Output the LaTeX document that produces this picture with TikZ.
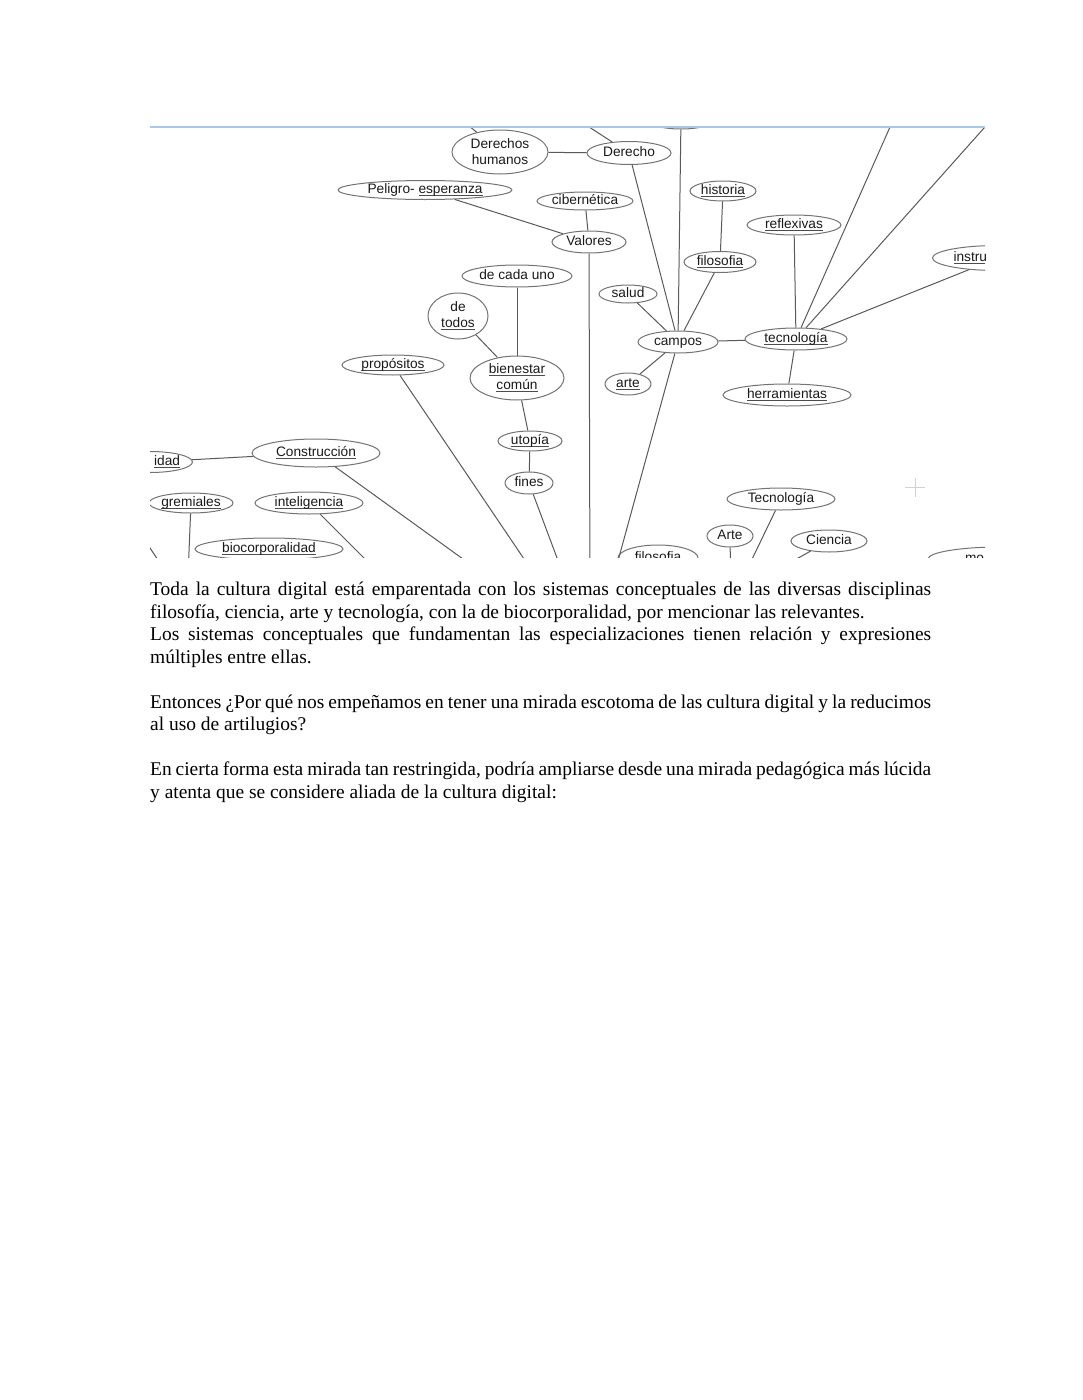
\documentclass[tikz,border=0pt]{standalone}
\usepackage{fontspec}
\setmainfont{Liberation Serif}
\newfontfamily\sansarial{Liberation Sans}
\usetikzlibrary{shapes.geometric}

\definecolor{bordecaptura}{RGB}{172,200,232}
\newcommand{\subrayar}[1]{\setbox0\hbox{#1}\rlap{\color{black!70}\rule[-2.6pt]{\wd0}{0.8pt}}\box0}
\newcommand{\etiqueta}{\sansarial\fontsize{13.7}{16}\selectfont}
\newcommand{\cuerpo}{\fontsize{19.45}{22.5}\selectfont}
\newcommand{\ancho}{781pt}

\tikzset{
	concepto/.style={ellipse, draw=black!55, line width=1pt, inner sep=0pt, font=\etiqueta, text=black!90, align=center, text height=9.8pt, text depth=2.9pt},
	doslineas/.style={text height=, text depth=},
	tam/.style 2 args={minimum width=#1, minimum height=#2},
	enlace/.style={draw=black!65, line width=1pt},
	renglon/.style={anchor=base west, inner sep=0pt, font=\cuerpo},
}

\begin{document}
\begin{tikzpicture}[x=1pt, y=-1pt]
	
	% Hoja completa
	\useasboundingbox (0,0) rectangle (1082,1400);
	
	\begin{scope}
		\clip (150,127) rectangle (985,557);
		
		% Conceptos de la parte alta
		\node[concepto, tam={76}{24}] (arriba1) at (681,117) {};
		\node[concepto, tam={62}{22}] (arriba2) at (766,116) {};
		\node[concepto, doslineas, tam={96}{44}] (dh) at (500,152) {Derechos\\humanos};
		\node[concepto, tam={84}{23}] (derecho) at (629,153) {Derecho};
		\node[concepto, tam={174}{19}] (peligro) at (425,190) {Peligro- \subrayar{esperanza}};
		\node[concepto, tam={96}{18}] (ciber) at (585,201) {cibernética};
		\node[concepto, tam={74}{22}] (valores) at (589,242) {Valores};
		\node[concepto, tam={66}{20}] (historia) at (723,191) {\subrayar{historia}};
		\node[concepto, tam={94}{20}] (reflexivas) at (794,225) {\subrayar{reflexivas}};
		\node[concepto, tam={72}{21}] (filosofia) at (720,262) {\subrayar{filosofia}};
		\node[concepto, tam={131}{25}, text width=89, align=left] (instru) at (998,258) {\subrayar{instru}};
		
		% Conceptos del centro
		\node[concepto, tam={110}{22}] (cadauno) at (517,276) {de cada uno};
		\node[concepto, doslineas, tam={60}{46}] (todos) at (458,316) {de\\\subrayar{todos}};
		\node[concepto, tam={58}{18}] (salud) at (628,294) {salud};
		\node[concepto, tam={80}{22}] (campos) at (678,342) {campos};
		\node[concepto, tam={102}{22}] (tecno) at (796,339) {\subrayar{tecnología}};
		\node[concepto, tam={102}{20}] (propositos) at (393,365) {\subrayar{propósitos}};
		\node[concepto, doslineas, tam={94}{44}] (bienestar) at (517,378) {\subrayar{bienestar}\\\subrayar{común}};
		\node[concepto, tam={46}{22}] (arte) at (628,384) {\subrayar{arte}};
		\node[concepto, tam={128}{22}] (herram) at (787,395) {\subrayar{herramientas}};
		\node[concepto, tam={64}{20}] (utopia) at (530,441) {\subrayar{utopía}};
		\node[concepto, tam={48}{22}] (fines) at (529,483) {fines};
		
		% Conceptos de la parte baja
		\node[concepto, tam={84}{21}, text width=60, align=right] (idad) at (150,462) {\subrayar{idad}};
		\node[concepto, tam={128}{28}] (construccion) at (316,453) {\subrayar{Construcción}};
		\node[concepto, tam={84}{20}] (gremiales) at (191,503) {\subrayar{gremiales}};
		\node[concepto, tam={108}{22}] (inteligencia) at (309,503) {\subrayar{inteligencia}};
		\node[concepto, tam={148}{22}] (bio) at (269,549) {\subrayar{biocorporalidad}};
		\node[concepto, tam={108}{22}] (tecnodos) at (781,499) {Tecnología};
		\node[concepto, tam={46}{22}] (artedos) at (730,536) {Arte};
		\node[concepto, tam={76}{22}] (ciencia) at (829,541) {Ciencia};
		\node[concepto, tam={80}{26}] (filodos) at (658,558) {filosofia};
		\node[concepto, tam={144}{24}, text width=70, align=left] (mo) at (1000,559) {mo};
		
		% Extremos fuera de la captura
		\coordinate (cdh) at (455,114);
		\coordinate (cder) at (560,108);
		\coordinate (ctec1) at (902,100);
		\coordinate (ctec2) at (1009,100);
		\coordinate (cv) at (590,600);
		\coordinate (cc) at (610,590);
		\coordinate (cp) at (545,590);
		\coordinate (cco) at (506,590);
		\coordinate (ci) at (396,590);
		\coordinate (cf) at (569,590);
		\coordinate (cg) at (187,600);
		\coordinate (ct) at (742,580);
		\coordinate (ca) at (731,600);
		\coordinate (cci) at (780,568);
		\coordinate (cizq1) at (144,539);
		\coordinate (cizq2) at (162,566);
		
		% Enlaces
		\foreach \a/\b in {dh/derecho, peligro/valores, ciber/valores, cadauno/bienestar, todos/bienestar,
			bienestar/utopia, utopia/fines, derecho/campos, arriba1/campos, filosofia/campos,
			historia/filosofia, salud/campos, arte/campos, campos/tecno, reflexivas/tecno,
			instru/tecno, tecno/herram, idad/construccion, cdh/dh, cder/derecho, ctec1/tecno,
			ctec2/tecno, valores/cv, campos/cc, propositos/cp, construccion/cco, inteligencia/ci,
			fines/cf, gremiales/cg, tecnodos/ct, artedos/ca, ciencia/cci, cizq1/cizq2}{
			\draw[enlace] (\a) -- (\b);
		}
		
		% Cursor
		\draw[gray!35, line width=1pt] (905,487) -- (925,487) (915,478) -- (915,497);
	\end{scope}
	
	% Borde superior de la captura
	\draw[bordecaptura, line width=1.2pt] (150,127) -- (985,127);
	
	% Texto bajo la captura
	\node[renglon] (t1) at (150,595.5) {\makebox[\ancho][s]{Toda la cultura digital está emparentada con los sistemas conceptuales de las diversas disciplinas}};
	\node[renglon] (t2) at (150,618) {filosofía, ciencia, arte y tecnología, con la de biocorporalidad, por mencionar las relevantes.};
	\node[renglon] (t3) at (150,640.5) {\makebox[\ancho][s]{Los sistemas conceptuales que fundamentan las especializaciones tienen relación y expresiones}};
	\node[renglon] (t4) at (150,663) {múltiples entre ellas.};
	\node[renglon] (t5) at (150,708) {\makebox[\ancho][s]{Entonces ¿Por qué nos empeñamos en tener una mirada escotoma de las cultura digital y la reducimos}};
	\node[renglon] (t6) at (150,730.5) {al uso de artilugios?};
	\node[renglon] (t7) at (150,775.5) {\makebox[\ancho][s]{En cierta forma esta mirada tan restringida, podría ampliarse desde una mirada pedagógica más lúcida}};
	\node[renglon] (t8) at (150,798) {y atenta que se considere aliada de la cultura digital:};
	
\end{tikzpicture}
\end{document}
